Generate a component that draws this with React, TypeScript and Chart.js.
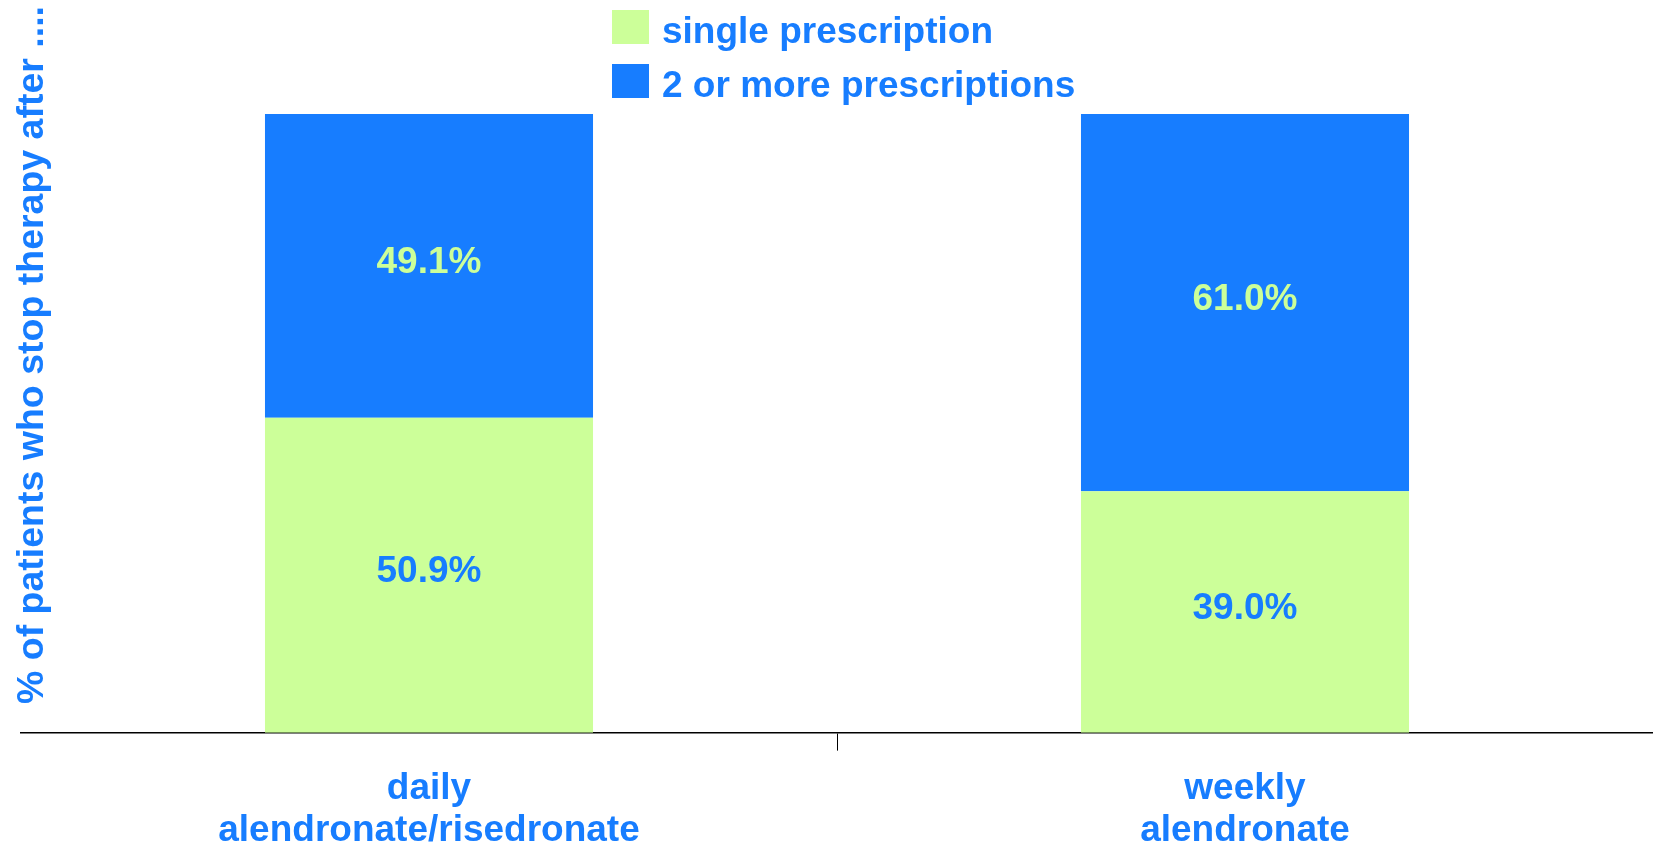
import React, { useEffect, useRef } from "react";
import { Chart, registerables } from "chart.js";

Chart.register(...registerables);

const categories: string[][] = [["daily", "alendronate/risedronate"], ["weekly", "alendronate"]];
const seriesNames = ["single prescription", "2 or more prescriptions"];
const singleValues = [50.9, 39.0];
const multipleValues = [49.1, 61.0];
const yTitle = "% of patients who stop therapy after ....";

const GREEN = "#CCFF99";
const BLUE = "#177DFF";
const FONT = '"Liberation Sans", Arial, sans-serif';

const labelsPlugin = {
  id: "segLabels",
  afterDatasetsDraw(chart: any) {
    const ctx = chart.ctx;
    ctx.save();
    ctx.font = `bold 37px ${FONT}`;
    ctx.textAlign = "center";
    ctx.textBaseline = "alphabetic";
    chart.data.datasets.forEach((ds: any, di: number) => {
      const meta = chart.getDatasetMeta(di);
      meta.data.forEach((bar: any, i: number) => {
        const v = ds.data[i];
        const cy = (bar.y + bar.base) / 2;
        ctx.fillStyle = di === 0 ? BLUE : GREEN;
        ctx.fillText(v.toFixed(1) + "%", bar.x, cy + 7);
      });
    });
    ctx.restore();
  },
};

const legendPlugin = {
  id: "customLegend",
  afterDraw(chart: any) {
    const ctx = chart.ctx;
    ctx.save();
    ctx.font = `bold 37px ${FONT}`;
    ctx.textAlign = "left";
    ctx.textBaseline = "alphabetic";
    chart.data.datasets.forEach((ds: any, i: number) => {
      const top = 10 + i * 54;
      ctx.fillStyle = ds.backgroundColor;
      ctx.fillRect(612, top, 37, 34);
      ctx.fillStyle = BLUE;
      ctx.fillText(ds.label, 662, top + 32.5);
    });
    ctx.restore();
  },
};

const yTitlePlugin = {
  id: "yTitle",
  afterDraw(chart: any) {
    const ctx = chart.ctx;
    ctx.save();
    ctx.font = `bold 37.5px ${FONT}`;
    ctx.fillStyle = BLUE;
    ctx.textAlign = "center";
    ctx.textBaseline = "middle";
    ctx.translate(33, 355);
    ctx.rotate(-Math.PI / 2);
    ctx.fillText(yTitle, 0, 0);
    ctx.restore();
  },
};

export default function App() {
  const ref = useRef<HTMLCanvasElement | null>(null);
  useEffect(() => {
    document.body.style.margin = "0";
    if (!ref.current) return;
    const chart = new Chart(ref.current, {
      type: "bar",
      data: {
        labels: categories,
        datasets: [
          { label: seriesNames[0], data: singleValues, backgroundColor: GREEN, borderWidth: 0 },
          { label: seriesNames[1], data: multipleValues, backgroundColor: BLUE, borderWidth: 0 },
        ],
      },
      options: {
        animation: false,
        responsive: false,
        maintainAspectRatio: false,
        layout: { padding: { top: 114, left: 21, right: 0, bottom: -24 } },
        plugins: { legend: { display: false }, tooltip: { enabled: false }, title: { display: false } },
        datasets: { bar: { categoryPercentage: 1, barPercentage: 0.402 } },
        scales: {
          x: {
            stacked: true,
            border: { display: true, color: "#000000", width: 1.5 },
            grid: {
              display: true,
              drawOnChartArea: false,
              drawTicks: true,
              tickLength: 18,
              offset: true,
              color: (c: any) => (c.index === 1 ? "#000000" : "rgba(0,0,0,0)"),
            },
            ticks: {
              color: BLUE,
              font: { family: FONT, size: 37, weight: "bold", lineHeight: 1.14 },
              padding: 17,
              maxRotation: 0,
              autoSkip: false,
            },
          },
          y: {
            stacked: true,
            display: false,
            min: 0,
            max: 100,
          },
        },
      } as any,
      plugins: [labelsPlugin, legendPlugin, yTitlePlugin],
    });
    return () => chart.destroy();
  }, []);
  return (
    <div style={{ width: 1653, height: 845 }}>
      <canvas ref={ref} width={1653} height={845} style={{ display: "block", width: 1653, height: 845 }} />
    </div>
  );
}
